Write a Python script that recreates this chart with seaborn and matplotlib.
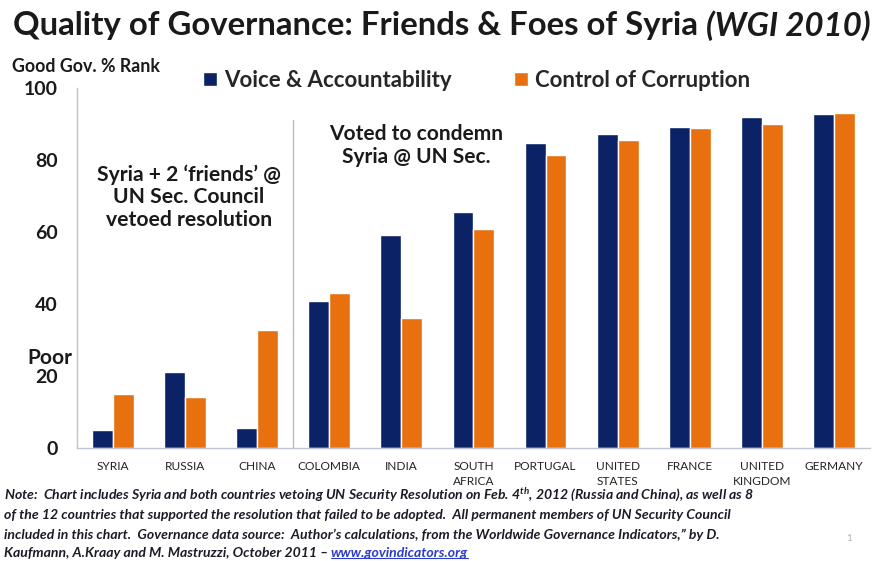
import pandas as pd
import seaborn as sns
import matplotlib.pyplot as plt
from matplotlib.lines import Line2D
from matplotlib.patches import Patch

# values (WGI 2010 percentile ranks)
countries = ["SYRIA", "RUSSIA", "CHINA", "COLOMBIA", "INDIA", "SOUTH\nAFRICA",
             "PORTUGAL", "UNITED\nSTATES", "FRANCE", "UNITED\nKINGDOM", "GERMANY"]
voice_accountability = [5.0, 21.1, 5.5, 40.7, 59.2, 65.5, 84.6, 87.1, 89.1, 91.9, 92.7]
control_corruption = [15.0, 14.1, 32.7, 43.0, 36.0, 60.7, 81.3, 85.6, 88.8, 89.9, 93.1]
series = ["Voice & Accountability", "Control of Corruption"]
y_ticks = [0, 20, 40, 60, 80, 100]

NAVY = "#0b2266"
ORANGE = "#e8700e"
FONT = "Lato"
TXT = "#1a1a1a"


def set_style():
    sns.set_theme(style="white")
    plt.rcParams['font.family'] = [FONT, 'DejaVu Sans']
    plt.rcParams['mathtext.fontset'] = 'custom'
    plt.rcParams['mathtext.rm'] = FONT + ':italic:bold'
    plt.rcParams['mathtext.it'] = FONT + ':italic:bold'
    plt.rcParams['mathtext.bf'] = FONT + ':italic:bold'


def fig_x(fig, artist):
    """right edge of a drawn text, in figure fraction"""
    fig.canvas.draw()
    return artist.get_window_extent().x1 / fig.bbox.width


def main():
    set_style()
    df = pd.DataFrame({"country": countries,
                       series[0]: voice_accountability,
                       series[1]: control_corruption})
    long = df.melt(id_vars="country", var_name="measure", value_name="rank")

    fig = plt.figure(figsize=(8.8, 5.61), dpi=100)
    ax = fig.add_axes([0.0875, 0.2014, 0.9011, 0.6417])

    sns.barplot(data=long, x="country", y="rank", hue="measure",
                palette=[NAVY, ORANGE], width=0.58, saturation=1,
                ax=ax, legend=False)

    ax.set_xlim(-0.5, len(countries) - 0.5)
    ax.set_ylim(0, 100)
    ax.set_yticks(y_ticks)
    ax.set_yticklabels([str(t) for t in y_ticks], fontsize=14, fontweight='bold', color=TXT)
    ax.set_xticks(range(len(countries)))
    ax.set_xticklabels(countries, fontsize=8.6, color='#222222', linespacing=1.5)
    ax.set_xlabel("")
    ax.set_ylabel("")
    ax.tick_params(axis='y', direction='in', length=4, color='#c8c8c8', pad=14)
    ax.tick_params(axis='x', length=0, pad=9)
    for side in ['top', 'right']:
        ax.spines[side].set_visible(False)
    for side in ['left', 'bottom']:
        ax.spines[side].set_color('#c0c6d0')
        ax.spines[side].set_linewidth(1.0)
    # small ticks between categories
    ax.set_xticks([i + 0.5 for i in range(len(countries) - 1)], minor=True)
    ax.tick_params(axis='x', which='minor', direction='in', length=3, color='#c8c8c8')

    # divider between vetoing and condemning countries
    ax.plot([2.5, 2.5], [0, 91], color='#b4bccb', lw=1.0, zorder=0)

    ax.text(1.05, 69.7, "Syria + 2 \u2018friends\u2019 @\nUN Sec. Council\nvetoed resolution",
            ha='center', va='center', fontsize=15.2, fontweight='bold',
            color=TXT, linespacing=1.15)
    ax.text(4.2, 84.0, "Voted to condemn\nSyria @ UN Sec.",
            ha='center', va='center', fontsize=15, fontweight='bold',
            color=TXT, linespacing=1.15)

    # title, italic part set right after the plain part
    t1 = fig.text(0.015, 0.955, "Quality of Governance: Friends & Foes of Syria ",
                  fontsize=23.7, fontweight='bold', color=TXT, va='center')
    fig.text(fig_x(fig, t1), 0.955, "(WGI 2010)", fontsize=23.7, fontweight='bold',
             style='italic', color=TXT, va='center')

    fig.text(0.014, 0.882, "Good Gov. % Rank", fontsize=12.8, fontweight='bold',
             color=TXT, va='center')
    fig.text(0.031, 0.362, "Poor", fontsize=15, fontweight='bold',
             color=TXT, va='center')

    handles = [Patch(facecolor=NAVY, label=series[0]),
               Patch(facecolor=ORANGE, label=series[1])]
    fig.legend(handles=handles, loc='center left', bbox_to_anchor=(0.208, 0.857),
               ncol=2, frameon=False, handlelength=0.65,
               handleheight=0.65, handletextpad=0.3, columnspacing=2.8,
               prop={'weight': 'bold', 'size': 16})

    # source note
    note_lines = [
        r"Note:  Chart includes Syria and both countries vetoing UN Security Resolution on Feb. 4$^{\mathrm{th}}$, 2012 (Russia and China), as well as 8",
        "of the 12 countries that supported the resolution that failed to be adopted.  All permanent members of UN Security Council",
        "included in this chart.  Governance data source:  Author\u2019s calculations, from the Worldwide Governance Indicators,\u201d by D.",
    ]
    ys = [0.116, 0.082, 0.047]
    for line, y in zip(note_lines, ys):
        fig.text(0.004, y, line, fontsize=10.1, style='italic', fontweight='bold',
                 color='#1c1c28', va='center')
    last = fig.text(0.004, 0.014, "Kaufmann, A.Kraay and M. Mastruzzi, October 2011 \u2013 ",
                    fontsize=10.1, style='italic', fontweight='bold',
                    color='#1c1c28', va='center')
    link = fig.text(fig_x(fig, last), 0.014, "www.govindicators.org", fontsize=10.1,
                    style='italic', fontweight='bold', color='#2a3cc8', va='center')
    fig.canvas.draw()
    lb = link.get_window_extent()
    uy = (lb.y0 + 1) / fig.bbox.height
    fig.add_artist(Line2D([lb.x0 / fig.bbox.width, lb.x1 / fig.bbox.width], [uy, uy],
                          transform=fig.transFigure, color='#2a3cc8', lw=0.8))
    fig.text(0.962, 0.04, "1", fontsize=7, color='#b0b0b0', va='center')

    fig.savefig("out.png", dpi=100)
    plt.close(fig)


if __name__ == '__main__':
    main()
